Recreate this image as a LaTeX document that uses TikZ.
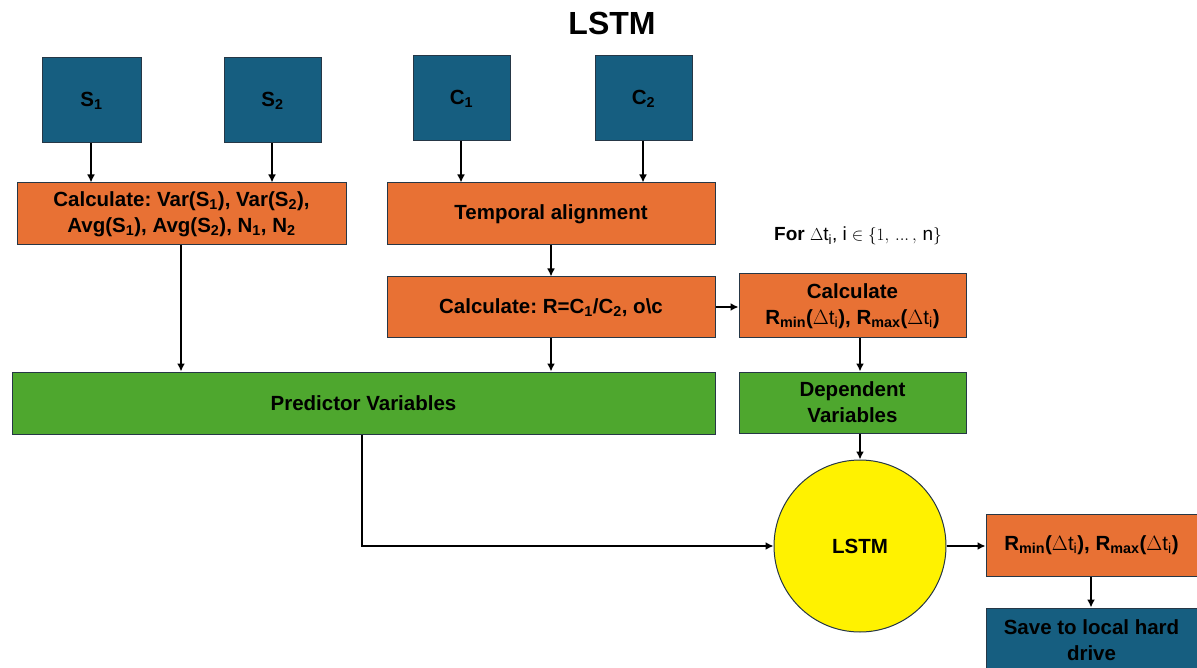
\documentclass[tikz,border=0pt]{standalone}
\usepackage{fontspec}
\setmainfont{Liberation Sans}
\frenchspacing
\usetikzlibrary{arrows.meta}
\definecolor{bluebox}{RGB}{22,94,128}
\definecolor{orangebox}{RGB}{232,113,52}
\definecolor{greenbox}{RGB}{78,167,46}
\definecolor{edge}{RGB}{38,55,70}
\newcommand{\dti}{$\Delta\mathrm{t}_\mathrm{i}$}
\begin{document}
\begin{tikzpicture}[x=1pt,y=-1pt,
  box/.style={draw=edge, line width=1pt, inner sep=0pt, align=center,
    font=\fontsize{20.5}{26}\selectfont\bfseries},
  bbox/.style={box, fill=bluebox},
  obox/.style={box, fill=orangebox},
  gbox/.style={box, fill=greenbox},
  arr/.style={line width=2pt, -{Latex[length=8pt,width=8pt]}}]
\useasboundingbox (0,0) rectangle (1197,668);
\node[font=\fontsize{32}{36}\selectfont\bfseries] (title) at (612,23) {LSTM};
\node[bbox, minimum width=99pt, minimum height=85pt] (S1) at (91.5,100.5) {S$_\mathbf{1}$};
\node[bbox, minimum width=97pt, minimum height=85pt] (S2) at (272.5,100.5) {S$_\mathbf{2}$};
\node[bbox, minimum width=97pt, minimum height=85pt] (C1) at (461.5,98.5) {C$_\mathbf{1}$};
\node[bbox, minimum width=97pt, minimum height=85pt] (C2) at (643.5,98.5) {C$_\mathbf{2}$};
\node[obox, minimum width=329pt, minimum height=62pt] (calc1) at (181.5,214)
  {Calculate: Var(S$_\mathbf{1}$), Var(S$_\mathbf{2}$),\\Avg(S$_\mathbf{1}$), Avg(S$_\mathbf{2}$), N$_\mathbf{1}$, N$_\mathbf{2}$};
\node[obox, minimum width=328pt, minimum height=62pt] (temp) at (551,214) {Temporal alignment};
\node[obox, minimum width=328pt, minimum height=61pt] (calcR) at (551,307.5)
  {Calculate: R=C$_\mathbf{1}$/C$_\mathbf{2}$, o\textbackslash c};
\node[obox, minimum width=227pt, minimum height=64pt] (calcRm) at (852.5,306)
  {Calculate\\R$_\mathbf{min}$(\dti), R$_\mathbf{max}$(\dti)};
\node[font=\fontsize{19}{23}\selectfont] (fornote) at (858,236)
  {\textbf{For} \dti, $\mathrm{i}\in\{1,\,\mathinner{\ldotp\!\ldotp\!\ldotp},\,\mathrm{n}\}$};
\node[gbox, minimum width=703pt, minimum height=62pt] (pred) at (363.5,403) {Predictor Variables};
\node[gbox, minimum width=227pt, minimum height=61pt] (dep) at (852.5,402.5) {Dependent\\Variables};
\node[draw=edge, line width=1pt, fill=yellow, circle, minimum size=172pt, inner sep=0pt,
  font=\fontsize{20.5}{24}\selectfont\bfseries] (lstm) at (860,546) {LSTM};
\node[obox, minimum width=211pt, minimum height=62pt] (out) at (1091.5,545)
  {R$_\mathbf{min}$(\dti), R$_\mathbf{max}$(\dti)};
\node[bbox, minimum width=211pt, minimum height=64pt] (save) at (1091.5,640)
  {Save to local hard\\drive};
% integer columns / rows for crisp connectors
\coordinate (xs1) at (91,0);
\coordinate (xs2) at (272,0);
\coordinate (xc1) at (461,0);
\coordinate (xc2) at (643,0);
\coordinate (xcalc) at (181,0);
\coordinate (xr) at (551,0);
\coordinate (rcol) at (860,0);
\coordinate (pturn) at (362,0);
\coordinate (xout) at (1091,0);
\coordinate (yr) at (0,307);
\draw[arr] (xs1 |- S1.south) -- (xs1 |- calc1.north);
\draw[arr] (xs2 |- S2.south) -- (xs2 |- calc1.north);
\draw[arr] (xc1 |- C1.south) -- (xc1 |- temp.north);
\draw[arr] (xc2 |- C2.south) -- (xc2 |- temp.north);
\draw[arr] (xcalc |- calc1.south) -- (xcalc |- pred.north);
\draw[arr] (xr |- temp.south) -- (xr |- calcR.north);
\draw[arr] (xr |- calcR.south) -- (xr |- pred.north);
\draw[arr] (calcR.east |- yr) -- (calcRm.west |- yr);
\draw[arr] (rcol |- calcRm.south) -- (rcol |- dep.north);
\draw[arr] (rcol |- dep.south) -- (lstm.north);
\draw[arr] (pturn |- pred.south) |- (lstm.west);
\draw[arr] (lstm.east) -- (lstm.east -| out.west);
\draw[arr] (xout |- out.south) -- (xout |- save.north);
\end{tikzpicture}
\end{document}
